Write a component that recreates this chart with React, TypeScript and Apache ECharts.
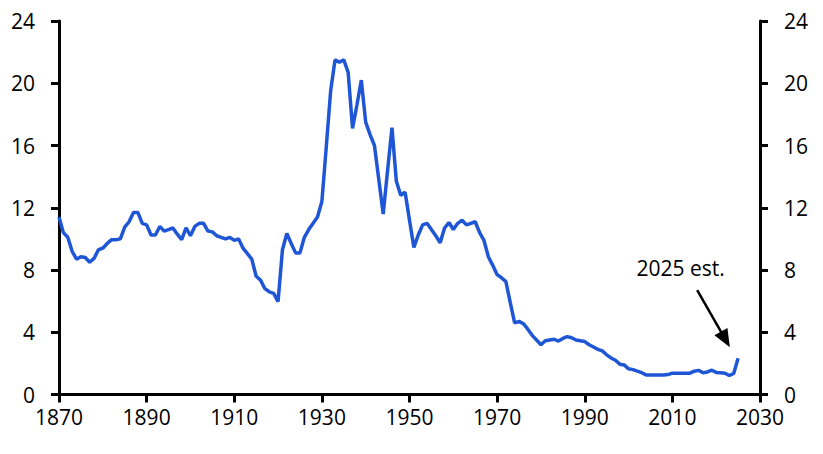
import React, { useEffect, useRef } from "react";
import * as echarts from "echarts";

const BASE_YEAR = 1870;
const years: number[] = [];
for (let y = 1870; y <= 2025; y++) years.push(y);

const tariffRate: number[] = [
  // 1870-1879
  11.4, 10.4, 10.1, 9.2, 8.7, 8.85, 8.8, 8.5, 8.75, 9.3,
  // 1880-1889
  9.4, 9.7, 9.95, 9.95, 10.0, 10.75, 11.1, 11.7, 11.7, 11.0,
  // 1890-1899
  10.9, 10.25, 10.25, 10.8, 10.5, 10.6, 10.7, 10.3, 9.95, 10.7,
  // 1900-1909
  10.2, 10.8, 11.0, 11.0, 10.5, 10.45, 10.2, 10.1, 10.0, 10.1,
  // 1910-1919
  9.9, 10.0, 9.4, 9.05, 8.7, 7.6, 7.35, 6.8, 6.6, 6.5,
  // 1920-1929
  5.97, 9.3, 10.35, 9.7, 9.1, 9.1, 10.1, 10.6, 11.0, 11.4,
  // 1930-1939
  12.4, 15.9, 19.5, 21.5, 21.35, 21.5, 20.7, 17.1, 18.6, 20.2,
  // 1940-1949
  17.5, 16.7, 16.0, 13.8, 11.6, 14.4, 17.15, 13.7, 12.8, 13.0,
  // 1950-1959
  11.2, 9.45, 10.25, 10.9, 11.0, 10.6, 10.2, 9.75, 10.7, 11.05,
  // 1960-1969
  10.6, 11.0, 11.2, 10.9, 11.0, 11.1, 10.4, 9.9, 8.85, 8.3,
  // 1970-1979
  7.7, 7.5, 7.25, 5.9, 4.6, 4.7, 4.55, 4.2, 3.8, 3.5,
  // 1980-1989
  3.2, 3.45, 3.5, 3.55, 3.43, 3.6, 3.72, 3.65, 3.5, 3.45,
  // 1990-1999
  3.4, 3.2, 3.05, 2.9, 2.8, 2.55, 2.35, 2.2, 1.95, 1.9,
  // 2000-2009
  1.65, 1.6, 1.5, 1.4, 1.26, 1.26, 1.26, 1.26, 1.26, 1.28,
  // 2010-2019
  1.37, 1.37, 1.37, 1.37, 1.37, 1.5, 1.55, 1.4, 1.45, 1.56,
  // 2020-2025
  1.42, 1.4, 1.37, 1.22, 1.35, 2.33,
];

const xTickYears = [1870, 1890, 1910, 1930, 1950, 1970, 1990, 2010, 2030];
const yTicks = [0, 4, 8, 12, 16, 20, 24];

const annotationText = "2025 est.";
const annotationAt = [2011.9, 8.13];
const arrowFrom = [2015.66, 6.71];
const arrowTo = [2022.1, 3.54];

const FONT = "'Open Sans', 'Noto Sans', 'DejaVu Sans', sans-serif";

export default function App() {
  const ref = useRef<HTMLDivElement>(null);

  useEffect(() => {
    if (!ref.current) return;
    const chart = echarts.init(ref.current, undefined, { renderer: "svg" });

    const seriesData = years.map((y, i) => [y - BASE_YEAR, tariffRate[i]]);

    const axisCommon = {
      axisLine: { show: true, lineStyle: { color: "#000", width: 3 } },
      axisTick: { show: true, inside: false, length: 8, lineStyle: { color: "#000", width: 3 } },
      splitLine: { show: false },
    };

    const yMin = yTicks[0];
    const yMax = yTicks[yTicks.length - 1];
    const yInterval = yTicks[1] - yTicks[0];

    const option: any = {
      animation: false,
      backgroundColor: "#fff",
      grid: { left: 59, right: 63, top: 21, bottom: 59.5, containLabel: false },
      xAxis: {
        type: "value",
        min: xTickYears[0] - BASE_YEAR,
        max: xTickYears[xTickYears.length - 1] - BASE_YEAR,
        interval: xTickYears[1] - xTickYears[0],
        ...axisCommon,
        axisLabel: {
          color: "#000",
          fontSize: 21,
          fontFamily: FONT,
          margin: 12,
          formatter: (v: number) => String(v + BASE_YEAR),
        },
      },
      yAxis: [
        {
          type: "value",
          position: "left",
          min: yMin,
          max: yMax,
          interval: yInterval,
          ...axisCommon,
          axisLabel: { color: "#000", fontSize: 21, fontFamily: FONT, margin: 24 },
        },
        {
          type: "value",
          position: "right",
          min: yMin,
          max: yMax,
          interval: yInterval,
          ...axisCommon,
          axisLabel: { color: "#000", fontSize: 21, fontFamily: FONT, margin: 24 },
        },
      ],
      series: [
        {
          type: "line",
          yAxisIndex: 0,
          data: seriesData,
          showSymbol: false,
          symbol: "none",
          lineStyle: { color: "#1f56d6", width: 3.5 },
          itemStyle: { color: "#1f56d6" },
          silent: true,
          markLine: {
            silent: true,
            animation: false,
            label: { show: false },
            lineStyle: { color: "#000", width: 2.5, type: "solid" },
            emphasis: { disabled: true },
            data: [
              [
                { coord: [arrowFrom[0] - BASE_YEAR, arrowFrom[1]], symbol: "none" },
                {
                  coord: [arrowTo[0] - BASE_YEAR, arrowTo[1]],
                  symbol: "triangle",
                  symbolSize: [15, 18],
                },
              ],
            ],
          },
          markPoint: {
            silent: true,
            animation: false,
            data: [
              {
                coord: [annotationAt[0] - BASE_YEAR, annotationAt[1]],
                symbol: "rect",
                symbolSize: 1,
                itemStyle: { color: "rgba(0,0,0,0)" },
                label: {
                  show: true,
                  position: "inside",
                  formatter: annotationText,
                  color: "#000",
                  fontSize: 21,
                  fontFamily: FONT,
                },
              },
            ],
          },
        },
      ],
    };

    chart.setOption(option);
    return () => chart.dispose();
  }, []);

  return (
    <div
      ref={ref}
      style={{ position: "fixed", left: 0, top: 0, width: 823, height: 454, background: "#fff" }}
    />
  );
}
